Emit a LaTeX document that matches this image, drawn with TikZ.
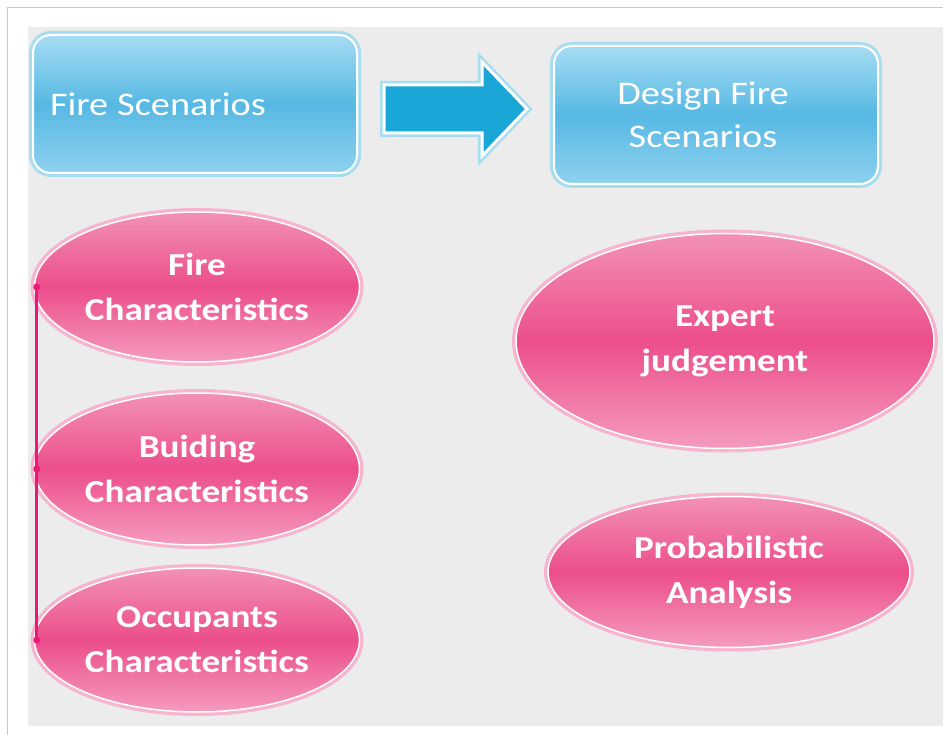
\documentclass[tikz,border=0pt]{standalone}
\usepackage{fontspec}
\setmainfont{Carlito}[FakeStretch=1.16]
\usetikzlibrary{shapes.geometric}
\definecolor{panel}{HTML}{ECECEC}
\definecolor{frameline}{HTML}{C8C8C8}
\definecolor{bluetop}{HTML}{A6DDF3}
\definecolor{bluemid}{HTML}{56B8E3}
\definecolor{bluebot}{HTML}{8FD1EF}
\definecolor{blueglow}{HTML}{A8DDF0}
\definecolor{arrowblue}{HTML}{1AA6D6}
\definecolor{pinktop}{HTML}{F291B5}
\definecolor{pinkmid}{HTML}{EC4E8B}
\definecolor{pinkbot}{HTML}{F59BBE}
\definecolor{pinkglow}{HTML}{F7B4CE}
\definecolor{spinecol}{HTML}{E8197A}
\tikzstyle{scenario} = [draw=white, line width=2pt, rounded corners=18pt, top color=bluetop, bottom color=bluebot, middle color=bluemid, minimum width=324pt, minimum height=138pt, text=white, font=\fontsize{33}{43}\selectfont, preaction={draw=blueglow, line width=8pt}]
\tikzstyle{factor} = [ellipse, draw=white, line width=1.5pt, top color=pinktop, bottom color=pinkbot, middle color=pinkmid, text=white, align=center, inner sep=0pt, font=\bfseries\fontsize{32}{45}\selectfont, preaction={draw=pinkglow, line width=8pt}]
\tikzstyle{goarrow} = [draw=white, line width=3pt, fill=arrowblue, line join=miter, preaction={draw=blueglow, line width=8pt}]
\tikzstyle{spine} = [draw=spinecol, line width=3pt]

\begin{document}
\begin{tikzpicture}[x=1pt, y=-1pt, node distance=180pt]
	\fill[white] (0,0) rectangle (943,735);
	\useasboundingbox (0,0) rectangle (943,735);
	\draw[frameline, line width=1pt] (7,735) -- (7,8) -- (943,8);
	\fill[panel] (28,27) rectangle (943,726);

	\node [scenario, text width=290pt, align=left] (scen) at (195,104) {Fire\hspace{-2pt} Scenarios};
	\node [scenario, align=center] (design) at (716,115) {\hspace*{-26pt}Design Fire\\\hspace*{-26pt}Scenarios};
	\draw [goarrow] (384,85) -- (482,85) -- (482,62) -- (527,109) -- (482,156) -- (482,133) -- (384,133) -- cycle;

	\node [factor, minimum width=325pt, minimum height=150pt] (fire) at (197,287) {Fire\\Characteristics};
	\node [factor, minimum width=325pt, minimum height=152pt, below of=fire, node distance=182pt] (bldg) {Buiding\\Characteristics};
	\node [factor, minimum width=325pt, minimum height=144pt, below of=bldg, node distance=171pt] (occ) {Occupants\\Characteristics};
	\node [factor, minimum width=418pt, minimum height=215pt] (expert) at (725,341) {Expert\\judgement};
	\node [factor, minimum width=362pt, minimum height=151pt] (prob) at (729,572) {Probabilistic\\Analysis};

	\draw [spine] ([xshift=3pt]fire.west) -- ([xshift=3pt]occ.west);
	\foreach \n in {fire,bldg,occ}
		\fill [spinecol] ([xshift=3pt]\n.west) circle (3.5pt);
\end{tikzpicture}
\end{document}
